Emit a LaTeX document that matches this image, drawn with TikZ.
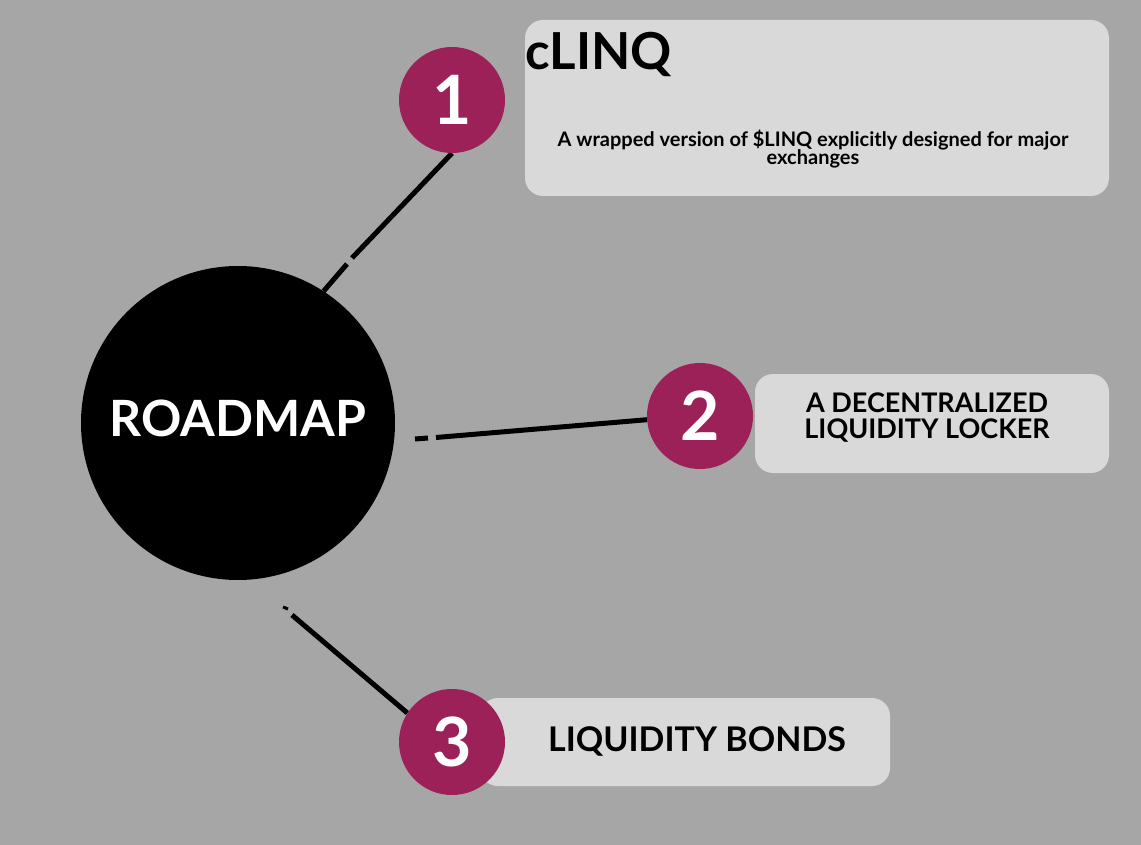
\documentclass[tikz,border=0pt]{standalone}
\usepackage{fontspec}
\setmainfont{Lato}
\usetikzlibrary{backgrounds}
\definecolor{bg}{RGB}{166,166,166}
\definecolor{boxfill}{RGB}{217,217,217}
\definecolor{maroon}{RGB}{155,33,88}
\begin{document}
\begin{tikzpicture}[x=1pt,y=-1pt,
  numcirc/.style={circle,fill=maroon,minimum size=106pt,inner sep=0pt,text=white,font=\bfseries\fontsize{68}{68}\selectfont},
  infobox/.style={fill=boxfill,rounded corners=18pt},
  conn/.style={line width=5pt,black},
  lbl/.style={font=\bfseries,inner sep=0pt,align=center}]
\useasboundingbox (0,0) rectangle (1141,845);
% main circle
\node[circle,fill=black,minimum size=314pt,inner sep=0pt] (rm) at (238,423) {};
\node[lbl,text=white,font=\bfseries\fontsize{50}{50}\selectfont] (rmt) at (238,418) {ROADMAP};
% number circles
\node[numcirc] (c1) at (452,100) {1};
\node[numcirc] (c2) at (700,416) {2};
\node[numcirc] (c3) at (452,742) {3};
% connector coordinates
\coordinate (g1a) at (352,258);
\coordinate (g1b) at (347,264);
\coordinate (f2) at (415,439);
\coordinate (g2a) at (428,438);
\coordinate (g2b) at (436,437.5);
\coordinate (f3) at (283,607);
\coordinate (g3a) at (288,609);
\coordinate (g3b) at (292,615);
\begin{pgfonlayer}{background}
\fill[bg] (0,0) rectangle (1141,845);
\fill[infobox] (525,20) rectangle (1109,196);
\fill[infobox] (755,374) rectangle (1109,473);
\fill[infobox] (480,698) rectangle (890,786);
\draw[conn] (c1.south) -- (g1a);
\draw[conn] (g1b) -- (rm.57);
\draw[conn] (f2) -- (g2a);
\draw[conn] (g2b) -- (c2.184);
\draw[line width=3pt] (f3) -- (g3a);
\draw[conn] (g3b) -- (c3.147);
\end{pgfonlayer}
% texts
\node[lbl,anchor=base west,font=\bfseries\fontsize{51}{51}\selectfont] (t1) at (525,70) {cLINQ};
\node[lbl,anchor=base,font=\bfseries\fontsize{20}{18.5}\selectfont] (d1) at (813,165) {A wrapped version of \$LINQ explicitly designed for major\\exchanges};
\node[lbl,anchor=base,font=\bfseries\fontsize{27}{25.5}\selectfont] (t2) at (927,438) {A DECENTRALIZED\\LIQUIDITY LOCKER};
\node[lbl,anchor=base,font=\bfseries\fontsize{34}{34}\selectfont] (t3) at (697,751) {LIQUIDITY BONDS};
\end{tikzpicture}
\end{document}
